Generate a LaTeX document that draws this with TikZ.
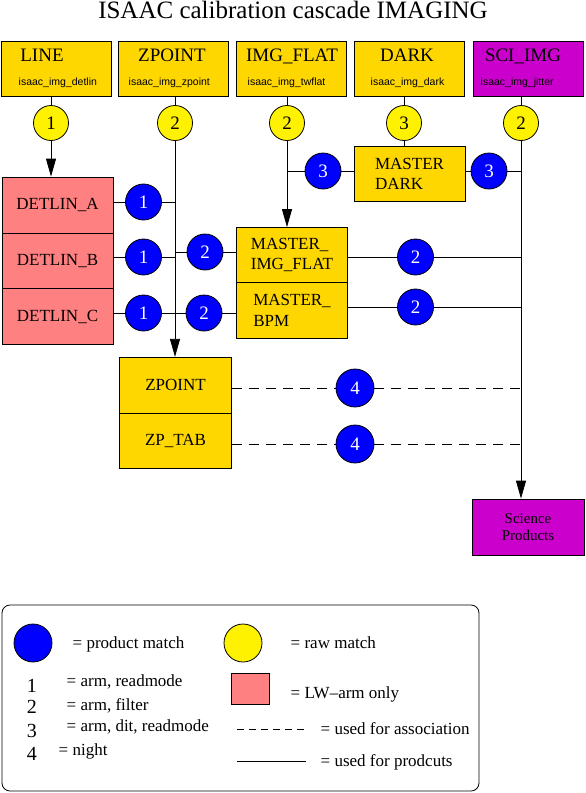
\documentclass[tikz,border=0pt]{standalone}
\usepackage{fontspec}
\setmainfont{Liberation Serif}
\newfontfamily\tinysans{Liberation Sans}
\usetikzlibrary{arrows, arrows.meta}
\usetikzlibrary{calc}

\definecolor{boxgold}{RGB}{255,215,0}
\definecolor{lwpink}{RGB}{255,128,128}
\definecolor{scimag}{RGB}{204,0,204}

\begin{document}
\begin{tikzpicture}[x=1pt, y=-1pt, line width=0.8pt,
    calbox/.style={draw, fill=boxgold, inner sep=0pt, minimum width=110pt, minimum height=55pt, align=left, font=\fontsize{17}{20.6}\selectfont},
    topname/.style={anchor=base, font=\fontsize{19}{19}\selectfont},
    recipe/.style={anchor=base west, font=\tinysans\fontsize{10.5}{10.5}\selectfont},
    prodmatch/.style={circle, draw, fill=blue, inner sep=0pt, minimum size=36pt, text=white, font=\fontsize{19}{19}\selectfont},
    rawmatch/.style={circle, draw, fill=yellow, inner sep=0pt, minimum size=35pt, font=\fontsize{19}{19}\selectfont},
    keytext/.style={anchor=base west, font=\fontsize{17}{17}\selectfont},
    keynum/.style={anchor=base, font=\fontsize{20}{20}\selectfont},
    assoc/.style={dash pattern=on 10pt off 7pt},
    arr/.style={-{Triangle[length=18pt, width=10pt]}}]
  \useasboundingbox (0,0) rectangle (586,793);

  \node[font=\fontsize{25}{25}\selectfont] (title) at (293,10) {ISAAC calibration cascade IMAGING};

  % raw frames
  \node[calbox] (line) at (56,68.5) {};
  \node[calbox] (zpt) at (173.5,68.5) {};
  \node[calbox] (flat) at (291.5,68.5) {};
  \node[calbox] (dark) at (409.5,68.5) {};
  \node[calbox, fill=scimag] (sciimg) at (528,68.5) {};

  \node[topname] (lineT) at (42,61) {LINE};
  \node[topname] (zptT) at (172,61) {ZPOINT};
  \node[topname] (flatT) at (292,61) {IMG\_FLAT};
  \node[topname] (darkT) at (407,61) {DARK};
  \node[topname] (sciimgT) at (523,61) {SCI\_IMG};

  \node[recipe] (lineR) at (15,85) {isaac\_img\_detlin};
  \node[recipe] (zptR) at (125,85) {isaac\_img\_zpoint};
  \node[recipe] (flatR) at (244,85) {isaac\_img\_twflat};
  \node[recipe] (darkR) at (367,85) {isaac\_img\_dark};
  \node[recipe] (sciimgR) at (477,85) {isaac\_img\_jitter};

  \node[rawmatch] (y1) at (51,123) {1};
  \node[rawmatch] (y2) at (175,123) {2};
  \node[rawmatch] (y3) at (287,123) {2};
  \node[rawmatch] (y4) at (404,123) {3};
  \node[rawmatch] (y5) at (521,123) {2};

  % products
  \node[calbox, fill=lwpink, minimum width=111pt, minimum height=56pt] (detA) at (57.5,205) {DETLIN\_A};
  \node[calbox, fill=lwpink, minimum width=111pt, minimum height=56pt] (detB) at (57.5,261) {DETLIN\_B};
  \node[calbox, fill=lwpink, minimum width=111pt, minimum height=56pt] (detC) at (57.5,316.5) {DETLIN\_C};
  \node[calbox, minimum width=111pt] (mdark) at (409.5,174) {MASTER\\DARK};
  \node[calbox, minimum width=111pt] (mflat) at (292,255) {MASTER\_\\IMG\_FLAT};
  \node[calbox, minimum width=111pt, minimum height=56pt] (mbpm) at (292,310.3) {MASTER\_\\BPM};
  \node[calbox, minimum width=112pt, minimum height=56pt] (zp) at (175.5,385.3) {ZPOINT};
  \node[calbox, minimum width=112pt] (zptab) at (175.5,440.8) {ZP\_TAB};
  \node[calbox, fill=scimag, minimum width=112pt, minimum height=56pt, align=center, font=\fontsize{15}{17}\selectfont] (sci) at (528,527) {Science\\Products};

  \node[prodmatch] (b1a) at (143.5,202) {1};
  \node[prodmatch] (b1b) at (143.5,257) {1};
  \node[prodmatch] (b1c) at (143.5,313) {1};
  \node[prodmatch] (b2b) at (205,252) {2};
  \node[prodmatch] (b2c) at (204,313) {2};
  \node[prodmatch] (b3l) at (323,171) {3};
  \node[prodmatch] (b3r) at (489,171) {3};
  \node[prodmatch] (b2f) at (415.5,257) {2};
  \node[prodmatch] (b2p) at (415.5,307) {2};
  \node[prodmatch, minimum size=38pt] (b4z) at (355,388) {4};
  \node[prodmatch, minimum size=38pt] (b4t) at (355,444) {4};

  \draw (line.south -| y1) -- (y1);
  \draw (zpt.south -| y2) -- (y2);
  \draw (flat.south -| y3) -- (y3);
  \draw (dark.south -| y4) -- (y4);
  \draw (sciimg.south -| y5) -- (y5);

  \draw[arr] (y1) -- (y1 |- detA.north);
  \draw[arr] (y2) -- (y2 |- zp.north);
  \draw[arr] (y3) -- (y3 |- mflat.north);
  \draw (y4) -- (y4 |- mdark.north);
  \draw[arr] (y5) -- (y5 |- sci.north);

  \draw (b1a -| detA.east) -- (b1a) -- (b1a -| y2);
  \draw (b1b -| detB.east) -- (b1b) -- (b1b -| y2);
  \draw (b2b -| y2) -- (b2b) -- (b2b -| mflat.west);
  \draw (b1c -| detC.east) -- (b1c) -- (b2c) -- (b2c -| mbpm.west);
  \draw (b3l -| y3) -- (b3l) -- (b3l -| mdark.west);
  \draw (b3r -| mdark.east) -- (b3r) -- (b3r -| y5);
  \draw (b2f -| mflat.east) -- (b2f) -- (b2f -| y5);
  \draw (b2p -| mbpm.east) -- (b2p) -- (b2p -| y5);
  \draw[assoc] (b4z -| zp.east) -- (b4z) -- (b4z -| y5);
  \draw[assoc] (b4t -| zptab.east) -- (b4t) -- (b4t -| y5);

  % legend
  \node[draw, rounded corners=8pt, minimum width=477pt, minimum height=186pt] (legend) at (240.5,698) {};
  \node[prodmatch, minimum size=38pt] (keyprod) at (33,643) {};
  \node[keytext] (keyprodT) at (69,648) {= product match};
  \node[rawmatch, minimum size=38pt] (keyraw) at (243,643) {};
  \node[keytext] (keyrawT) at (287,648) {= raw match};

  \node[keynum] (k1) at (32,692) {1};
  \node[keynum] (k2) at (32,713) {2};
  \node[keynum] (k3) at (32,737) {3};
  \node[keynum] (k4) at (32,760) {4};
  \node[keytext] (k1T) at (63,686) {= arm, readmode};
  \node[keytext] (k2T) at (63,710) {= arm, filter};
  \node[keytext] (k3T) at (63,731) {= arm, dit, readmode};
  \node[keytext] (k4T) at (55,755) {= night};

  \node[draw, fill=lwpink, minimum width=38pt, minimum height=31pt] (keylw) at (250,688.5) {};
  \node[keytext] (keylwT) at (287,698) {= LW\textendash arm only};

  \coordinate (dashA) at (237,729);
  \coordinate (dashB) at (305,729);
  \draw[dash pattern=on 7pt off 5pt] (dashA) -- (dashB);
  \node[keytext] (dashT) at (317,734) {= used for association};
  \coordinate (fullA) at (237,761);
  \coordinate (fullB) at (306,761);
  \draw (fullA) -- (fullB);
  \node[keytext] (fullT) at (317,766) {= used for prodcuts};
\end{tikzpicture}
\end{document}
